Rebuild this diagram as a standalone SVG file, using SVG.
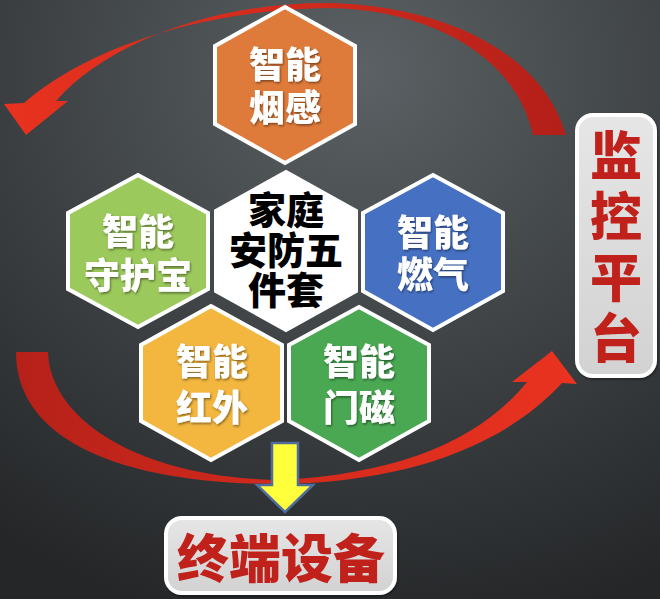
<svg xmlns="http://www.w3.org/2000/svg" width="660" height="599" viewBox="0 0 660 599">
<defs>
<radialGradient id="bg" cx="0.55" cy="0.12" r="0.95">
<stop offset="0" stop-color="#5b6164"/>
<stop offset="0.55" stop-color="#3c4042"/>
<stop offset="1" stop-color="#242628"/>
</radialGradient>
<linearGradient id="topArc" x1="0" y1="0" x2="1" y2="0" gradientUnits="objectBoundingBox">
<stop offset="0" stop-color="#e8321f"/>
<stop offset="0.55" stop-color="#d02a1c"/>
<stop offset="1" stop-color="#b31f19"/>
</linearGradient>
<linearGradient id="botArc" x1="0" y1="0" x2="1" y2="0" gradientUnits="objectBoundingBox">
<stop offset="0" stop-color="#b52119"/>
<stop offset="0.5" stop-color="#d42a1d"/>
<stop offset="1" stop-color="#ea3320"/>
</linearGradient>
<linearGradient id="boxFill" x1="0" y1="0" x2="0" y2="1">
<stop offset="0" stop-color="#e6e6e6"/>
<stop offset="1" stop-color="#d2d2d2"/>
</linearGradient>
<filter id="sh" x="-10%" y="-10%" width="120%" height="120%">
<feDropShadow dx="1" dy="1.5" stdDeviation="1.2" flood-color="#000" flood-opacity="0.45"/>
</filter>
</defs>
<style>
.hex{stroke:#ffffff;stroke-width:4;stroke-linejoin:miter}
.wt{font-family:"Noto Sans CJK SC","Noto Sans",sans-serif;font-weight:900;font-size:36px;fill:#ffffff;text-anchor:middle}
.bt{font-family:"Noto Sans CJK SC","Noto Sans",sans-serif;font-weight:900;font-size:38px;fill:#000000;text-anchor:middle}
.rt{font-family:"Noto Sans CJK SC","Noto Sans",sans-serif;font-weight:900;font-size:52px;fill:#c0211b;text-anchor:middle}
.box{fill:url(#boxFill);stroke:#ffffff;stroke-width:4}
</style>
<rect width="660" height="599" fill="url(#bg)"/>

<g id="connectors">
<path id="arc-top" fill="url(#topArc)" d="M 566 135 C 540 45, 430 5, 330 3 C 220 2, 110 40, 56 101 L 68 101 L 26 135 L 4 104 L 24 103 C 90 45, 210 9, 330 8 C 430 10, 515 55, 533 135 Z"/>
<path id="arc-bottom" fill="url(#botArc)" d="M 16 352 C 16 440, 120 484, 280 484 C 400 482, 500 450, 562 383 L 577 384 L 552 351 L 512 382 L 527 382 C 480 440, 400 474, 280 480 C 140 478, 50 420, 48 352 Z"/>
<path id="down-arrow" fill="#ffff3c" stroke="#4f6e9e" stroke-width="2.5" stroke-linejoin="miter" d="M 272 443 L 298 443 L 298 485 L 313 485 L 285 512 L 257 485 L 272 485 Z"/>
</g>

<g id="hex-smoke">
<polygon class="hex" fill="#df7b3a" points="285,7 355,46 355,124 285,163 215,124 215,46"/>
<text class="wt" x="285" y="78" filter="url(#sh)">智能</text>
<text class="wt" x="285" y="121" filter="url(#sh)">烟感</text>
</g>

<g id="hex-guard">
<polygon class="hex" fill="#9cc95c" points="138,175 208,213 208,289 138,327 68,289 68,213"/>
<text class="wt" x="138" y="245" filter="url(#sh)">智能</text>
<text class="wt" x="138" y="289" filter="url(#sh)">守护宝</text>
</g>

<g id="hex-center">
<polygon class="hex" fill="#ffffff" points="286,172 356,211 356,291 286,330 216,291 216,211"/>
<text class="bt" x="286" y="224">家庭</text>
<text class="bt" x="286" y="264">安防五</text>
<text class="bt" x="286" y="304">件套</text>
</g>

<g id="hex-gas">
<polygon class="hex" fill="#4671c3" points="433,175 503,213 503,291 433,330 363,291 363,213"/>
<text class="wt" x="433" y="246" filter="url(#sh)">智能</text>
<text class="wt" x="433" y="288" filter="url(#sh)">燃气</text>
</g>

<g id="hex-infrared">
<polygon class="hex" fill="#f3b63f" points="211,306 282,345 282,421 211,460 141,421 141,345"/>
<text class="wt" x="212" y="375" filter="url(#sh)">智能</text>
<text class="wt" x="212" y="421" filter="url(#sh)">红外</text>
</g>

<g id="hex-door">
<polygon class="hex" fill="#4aa853" points="359,307 429,345 429,421 359,460 289,421 289,345"/>
<text class="wt" x="359" y="375" filter="url(#sh)">智能</text>
<text class="wt" x="359" y="421" filter="url(#sh)">门磁</text>
</g>

<g id="monitor-platform">
<rect class="box" x="577" y="115" width="78" height="261" rx="16" filter="url(#sh)"/>
<text class="rt" x="616" y="175">监</text>
<text class="rt" x="616" y="236">控</text>
<text class="rt" x="616" y="297">平</text>
<text class="rt" x="616" y="358">台</text>
</g>

<g id="terminal-device">
<rect class="box" x="166" y="518" width="229" height="75" rx="16" filter="url(#sh)"/>
<text class="rt" x="281" y="578">终端设备</text>
</g>
</svg>
